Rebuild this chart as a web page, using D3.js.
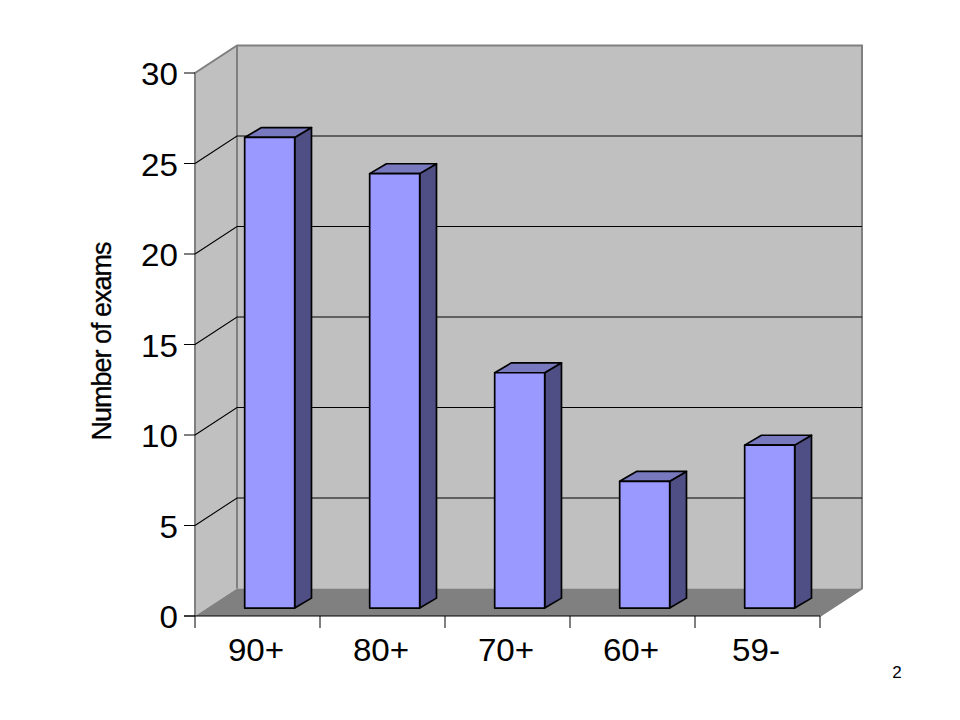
<!DOCTYPE html>
<html><head><meta charset="utf-8">
<script src="https://cdn.jsdelivr.net/npm/d3@7"></script>
<style>html,body{margin:0;padding:0;background:#fff}svg{display:block}text{font-family:"Liberation Sans",Arial,sans-serif;fill:#000}</style>
</head><body><svg id="c" width="960" height="720"></svg>
<script>
const categories = ["90+","80+","70+","60+","59-"];
const values = [26,24,13,7,9];
const yTicks = [0,5,10,15,20,25,30];
const yTitle = "Number of exams";
const pageNumber = "2";

const svg = d3.select("#c");
const x = d3.scaleBand().domain(categories).range([195,820]).paddingInner(0.6).paddingOuter(0.3);
const xEdges = d3.range(categories.length+1).map(i=>195+i*x.step());
const y = d3.scaleLinear().domain([0,30]).range([616,73]);
const dx=42, dy=-27.5;
const pts = a=>a.map(p=>p.join(",")).join(" ");
const x0=195,x1=820,y0=y(0),yT=y(30);

svg.append("polygon").attr("points",pts([[x0+dx,yT+dy],[x1+dx,yT+dy],[x1+dx,y0+dy],[x0+dx,y0+dy]])).attr("fill","#c0c0c0");
svg.append("polygon").attr("points",pts([[x0,yT],[x0+dx,yT+dy],[x0+dx,y0+dy],[x0,y0]])).attr("fill","#c0c0c0");
svg.append("polygon").attr("points",pts([[x0,y0],[x0+dx,y0+dy],[x1+dx,y0+dy],[x1,y0]])).attr("fill","#808080");

const edge="#808080";
svg.append("polyline").attr("points",pts([[x0,y0],[x0,yT],[x0+dx,yT+dy],[x1+dx,yT+dy],[x1+dx,y0+dy],[x1,y0]])).attr("fill","none").attr("stroke",edge).attr("stroke-width",2);
svg.append("line").attr("x1",x0+dx).attr("x2",x0+dx).attr("y1",yT+dy).attr("y2",y0+dy).attr("stroke",edge).attr("stroke-width",2);

yTicks.filter(t=>t>0&&t<30).forEach(t=>{
  svg.append("polyline").attr("points",pts([[x0,y(t)],[x0+dx,y(t)+dy],[x1+dx,y(t)+dy]])).attr("fill","none").attr("stroke","#000").attr("stroke-width",1.1);
});

const f=0.29, dX=0.4, dY=0.36;
const g=svg.append("g").selectAll("g").data(values).join("g");
g.each(function(v,i){
  const s=d3.select(this);
  const L=x(categories[i])+dx*f, R=L+x.bandwidth();
  const B=y(0)+dy*f, T=y(v)+dy*f;
  const ox=dx*dX, oy=dy*dY;
  const st=p=>p.attr("stroke","#000").attr("stroke-width",1.7).attr("stroke-linejoin","round");
  st(s.append("polygon").attr("points",pts([[R,T],[R+ox,T+oy],[R+ox,B+oy],[R,B]])).attr("fill","#4f4f86"));
  st(s.append("polygon").attr("points",pts([[L,T],[L+ox,T+oy],[R+ox,T+oy],[R,T]])).attr("fill","#7878bf"));
  st(s.append("rect").attr("x",L).attr("y",T).attr("width",R-L).attr("height",B-T).attr("fill","#9999ff"));
});

// axes
svg.append("line").attr("x1",184).attr("x2",x1).attr("y1",y0).attr("y2",y0).attr("stroke","#000").attr("stroke-width",1.2);
xEdges.forEach(e=>svg.append("line").attr("x1",e).attr("x2",e).attr("y1",y0).attr("y2",y0+12).attr("stroke","#000"));
yTicks.forEach(t=>svg.append("line").attr("x1",184).attr("x2",x0).attr("y1",y(t)).attr("y2",y(t)).attr("stroke","#000"));

const sx=1.07;
yTicks.forEach(t=>svg.append("text").attr("text-anchor","end").attr("font-size",31)
  .attr("transform",`translate(178,${y(t)+12}) scale(${sx},1)`).text(t));
categories.forEach(c=>svg.append("text").attr("text-anchor","middle").attr("font-size",31)
  .attr("transform",`translate(${x(c)+x.bandwidth()/2-1.5},660.5) scale(${sx},1)`).text(c));
svg.append("text").attr("text-anchor","middle").attr("font-size",27).attr("letter-spacing",-1)
  .attr("stroke","#000").attr("stroke-width",0.3)
  .attr("transform","translate(111,341.5) rotate(-90)").text(yTitle);
svg.append("text").attr("font-size",17).attr("text-anchor","middle").attr("x",897).attr("y",678).text(pageNumber);
</script></body></html>
